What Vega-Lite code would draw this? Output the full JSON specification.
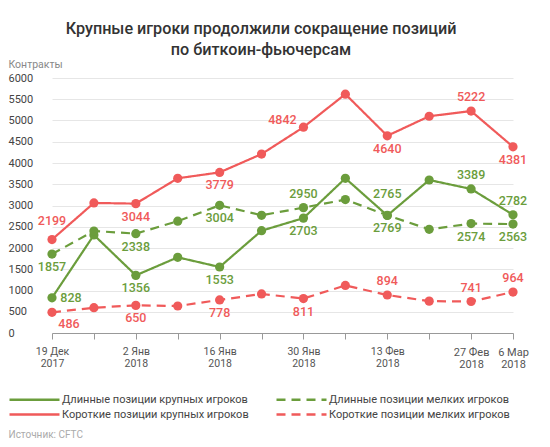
{
  "$schema": "https://vega.github.io/schema/vega-lite/v6.json",
  "autosize": "none",
  "width": 488,
  "height": 255,
  "padding": {"left": 40, "top": 78, "right": 22, "bottom": 114},
  "background": "white",
  "config": {"font": "Roboto", "view": {"stroke": null}},
  "title": {
    "text": ["Крупные игроки продолжили сокращение позиций", "по биткоин-фьючерсам"],
    "fontSize": 16.2,
    "fontWeight": 500,
    "color": "#333333",
    "anchor": "middle",
    "dx": -23,
    "lineHeight": 21,
    "offset": 1
  },
  "data": {
    "values": [
      {"date": "2017-12-19", "series": "Длинные позиции крупных игроков", "value": 828},
      {"date": "2017-12-26", "series": "Длинные позиции крупных игроков", "value": 2306},
      {"date": "2018-01-02", "series": "Длинные позиции крупных игроков", "value": 1356},
      {"date": "2018-01-09", "series": "Длинные позиции крупных игроков", "value": 1781},
      {"date": "2018-01-16", "series": "Длинные позиции крупных игроков", "value": 1553},
      {"date": "2018-01-23", "series": "Длинные позиции крупных игроков", "value": 2407},
      {"date": "2018-01-30", "series": "Длинные позиции крупных игроков", "value": 2703},
      {"date": "2018-02-06", "series": "Длинные позиции крупных игроков", "value": 3640},
      {"date": "2018-02-13", "series": "Длинные позиции крупных игроков", "value": 2765},
      {"date": "2018-02-20", "series": "Длинные позиции крупных игроков", "value": 3600},
      {"date": "2018-02-27", "series": "Длинные позиции крупных игроков", "value": 3389},
      {"date": "2018-03-06", "series": "Длинные позиции крупных игроков", "value": 2782},
      {"date": "2017-12-19", "series": "Длинные позиции мелких игроков", "value": 1857},
      {"date": "2017-12-26", "series": "Длинные позиции мелких игроков", "value": 2400},
      {"date": "2018-01-02", "series": "Длинные позиции мелких игроков", "value": 2338},
      {"date": "2018-01-09", "series": "Длинные позиции мелких игроков", "value": 2630},
      {"date": "2018-01-16", "series": "Длинные позиции мелких игроков", "value": 3004},
      {"date": "2018-01-23", "series": "Длинные позиции мелких игроков", "value": 2770},
      {"date": "2018-01-30", "series": "Длинные позиции мелких игроков", "value": 2950},
      {"date": "2018-02-06", "series": "Длинные позиции мелких игроков", "value": 3140},
      {"date": "2018-02-13", "series": "Длинные позиции мелких игроков", "value": 2769},
      {"date": "2018-02-20", "series": "Длинные позиции мелких игроков", "value": 2440},
      {"date": "2018-02-27", "series": "Длинные позиции мелких игроков", "value": 2574},
      {"date": "2018-03-06", "series": "Длинные позиции мелких игроков", "value": 2563},
      {"date": "2017-12-19", "series": "Короткие позиции крупных игроков", "value": 2199},
      {"date": "2017-12-26", "series": "Короткие позиции крупных игроков", "value": 3060},
      {"date": "2018-01-02", "series": "Короткие позиции крупных игроков", "value": 3044},
      {"date": "2018-01-09", "series": "Короткие позиции крупных игроков", "value": 3640},
      {"date": "2018-01-16", "series": "Короткие позиции крупных игроков", "value": 3779},
      {"date": "2018-01-23", "series": "Короткие позиции крупных игроков", "value": 4210},
      {"date": "2018-01-30", "series": "Короткие позиции крупных игроков", "value": 4842},
      {"date": "2018-02-06", "series": "Короткие позиции крупных игроков", "value": 5620},
      {"date": "2018-02-13", "series": "Короткие позиции крупных игроков", "value": 4640},
      {"date": "2018-02-20", "series": "Короткие позиции крупных игроков", "value": 5100},
      {"date": "2018-02-27", "series": "Короткие позиции крупных игроков", "value": 5222},
      {"date": "2018-03-06", "series": "Короткие позиции крупных игроков", "value": 4381},
      {"date": "2017-12-19", "series": "Короткие позиции мелких игроков", "value": 486},
      {"date": "2017-12-26", "series": "Короткие позиции мелких игроков", "value": 595},
      {"date": "2018-01-02", "series": "Короткие позиции мелких игроков", "value": 650},
      {"date": "2018-01-09", "series": "Короткие позиции мелких игроков", "value": 635},
      {"date": "2018-01-16", "series": "Короткие позиции мелких игроков", "value": 778},
      {"date": "2018-01-23", "series": "Короткие позиции мелких игроков", "value": 918},
      {"date": "2018-01-30", "series": "Короткие позиции мелких игроков", "value": 811},
      {"date": "2018-02-06", "series": "Короткие позиции мелких игроков", "value": 1120},
      {"date": "2018-02-13", "series": "Короткие позиции мелких игроков", "value": 894},
      {"date": "2018-02-20", "series": "Короткие позиции мелких игроков", "value": 750},
      {"date": "2018-02-27", "series": "Короткие позиции мелких игроков", "value": 741},
      {"date": "2018-03-06", "series": "Короткие позиции мелких игроков", "value": 964}
    ]
  },
  "encoding": {
    "x": {
      "field": "date",
      "type": "ordinal",
      "scale": {"type": "point", "range": [12, 473], "padding": 0},
      "axis": {
        "title": "Источник: CFTC",
        "titleX": -32,
        "titleY": 101,
        "titleAlign": "left",
        "titleAnchor": null,
        "titleBaseline": "middle",
        "titleColor": "#aaaaaa",
        "titleFontSize": 10,
        "titleFontWeight": "normal",
        "labelExpr": "datum.value == '2017-12-19' ? ['19 Дек','2017'] : datum.value == '2018-01-02' ? ['2 Янв','2018'] : datum.value == '2018-01-16' ? ['16 Янв','2018'] : datum.value == '2018-01-30' ? ['30 Янв','2018'] : datum.value == '2018-02-13' ? ['13 Фев','2018'] : datum.value == '2018-02-27' ? ['27 Фев','2018'] : datum.value == '2018-03-06' ? ['6 Мар','2018'] : ''",
        "labelAngle": 0,
        "labelOverlap": false,
        "labelColor": "#555555",
        "labelFontSize": {"condition": {"test": "datum.value == '2018-02-27' || datum.value == '2018-03-06'", "value": 11}, "value": 10.5},
        "labelLineHeight": 12,
        "labelPadding": 7,
        "tickSize": 6,
        "tickColor": "#999999",
        "domainColor": "#999999",
        "grid": false
      }
    },
    "y": {
      "field": "value",
      "type": "quantitative",
      "scale": {"domain": [0, 6000], "nice": false},
      "axis": {
        "title": "Контракты",
        "titleAngle": 0,
        "titleX": -32,
        "titleY": -14,
        "titleAlign": "left",
        "titleAnchor": null,
        "titleBaseline": "middle",
        "titleColor": "#888888",
        "titleFontSize": 10.5,
        "titleFontWeight": "normal",
        "format": "d",
        "values": [0, 500, 1000, 1500, 2000, 2500, 3000, 3500, 4000, 4500, 5000, 5500, 6000],
        "labelAlign": "left",
        "labelBaseline": "middle",
        "labelPadding": 32,
        "ticks": false,
        "tickSize": 0,
        "domain": false,
        "labelColor": "#444444",
        "labelFontSize": 11,
        "gridColor": "#e6e6e6"
      }
    },
    "color": {
      "field": "series",
      "type": "nominal",
      "scale": {
        "domain": ["Длинные позиции крупных игроков", "Короткие позиции крупных игроков", "Длинные позиции мелких игроков", "Короткие позиции мелких игроков"],
        "range": ["#6b9d3c", "#f05a5a", "#6b9d3c", "#f05a5a"]
      },
      "legend": {
        "orient": "none",
        "legendX": -12,
        "legendY": 315,
        "columns": 2,
        "title": null,
        "symbolType": "M-5,0H5",
        "symbolSize": 100,
        "symbolStrokeWidth": 2.5,
        "labelFontSize": 11,
        "labelColor": "#444444",
        "labelLimit": 300,
        "labelOffset": 21,
        "columnPadding": 22,
        "rowPadding": 3
      }
    }
  },
  "layer": [
    {
      "mark": {"type": "line", "strokeWidth": 2.2},
      "encoding": {
        "strokeDash": {
          "field": "series",
          "type": "nominal",
          "scale": {
            "domain": ["Длинные позиции крупных игроков", "Короткие позиции крупных игроков", "Длинные позиции мелких игроков", "Короткие позиции мелких игроков"],
            "range": [[1, 0], [1, 0], [9, 6], [9, 6]]
          },
          "legend": {
            "orient": "none",
            "legendX": -12,
            "legendY": 315,
            "columns": 2,
            "title": null,
            "symbolType": "M-5,0H5",
            "symbolSize": 100,
            "symbolStrokeWidth": 2.5,
            "labelFontSize": 11,
            "labelColor": "#444444",
            "labelLimit": 300,
            "labelOffset": 21,
            "columnPadding": 22,
            "rowPadding": 3
          }
        }
      }
    },
    {
      "mark": {"type": "point", "filled": true, "size": 85, "opacity": 1},
      "encoding": {}
    },
    {
      "transform": [{"filter": "(datum.series == 'Длинные позиции крупных игроков' && indexof(['2018-02-27','2018-03-06'], datum.date) >= 0) || (datum.series == 'Длинные позиции мелких игроков' && datum.date == '2018-01-30') || (datum.series == 'Короткие позиции крупных игроков' && datum.date == '2018-02-27') || (datum.series == 'Короткие позиции мелких игроков' && indexof(['2018-02-13','2018-02-27','2018-03-06'], datum.date) >= 0)"}],
      "mark": {"type": "text", "fontSize": 12.5, "fontWeight": 500, "dy": -14, "baseline": "middle"},
      "encoding": {"text": {"field": "value", "type": "quantitative", "format": "d"}}
    },
    {
      "transform": [{"filter": "(datum.series == 'Длинные позиции крупных игроков' && indexof(['2018-01-02','2018-01-16','2018-01-30'], datum.date) >= 0) || (datum.series == 'Длинные позиции мелких игроков' && indexof(['2017-12-19','2018-01-02','2018-01-16','2018-02-13','2018-02-27','2018-03-06'], datum.date) >= 0) || (datum.series == 'Короткие позиции крупных игроков' && indexof(['2018-01-02','2018-01-16','2018-02-13','2018-03-06'], datum.date) >= 0) || (datum.series == 'Короткие позиции мелких игроков' && indexof(['2018-01-02','2018-01-16','2018-01-30'], datum.date) >= 0)"}],
      "mark": {"type": "text", "fontSize": 12.5, "fontWeight": 500, "dy": 13, "baseline": "middle"},
      "encoding": {"text": {"field": "value", "type": "quantitative", "format": "d"}}
    },
    {
      "transform": [{"filter": "datum.series == 'Длинные позиции крупных игроков' && datum.date == '2018-02-13'"}],
      "mark": {"type": "text", "fontSize": 12.5, "fontWeight": 500, "dy": -21, "baseline": "middle"},
      "encoding": {"text": {"field": "value", "type": "quantitative", "format": "d"}}
    },
    {
      "transform": [{"filter": "datum.series == 'Длинные позиции крупных игроков' && datum.date == '2017-12-19'"}],
      "mark": {"type": "text", "fontSize": 12.5, "fontWeight": 500, "dx": 19, "dy": 0, "baseline": "middle"},
      "encoding": {"text": {"field": "value", "type": "quantitative", "format": "d"}}
    },
    {
      "transform": [{"filter": "datum.series == 'Короткие позиции мелких игроков' && datum.date == '2017-12-19'"}],
      "mark": {"type": "text", "fontSize": 12.5, "fontWeight": 500, "dx": 17, "dy": 12, "baseline": "middle"},
      "encoding": {"text": {"field": "value", "type": "quantitative", "format": "d"}}
    },
    {
      "transform": [{"filter": "datum.series == 'Короткие позиции крупных игроков' && datum.date == '2018-01-30'"}],
      "mark": {"type": "text", "fontSize": 12.5, "fontWeight": 500, "dx": -21, "dy": -7, "baseline": "middle"},
      "encoding": {"text": {"field": "value", "type": "quantitative", "format": "d"}}
    },
    {
      "transform": [{"filter": "datum.series == 'Короткие позиции крупных игроков' && datum.date == '2017-12-19'"}],
      "mark": {"type": "text", "fontSize": 12.5, "fontWeight": 500, "dy": -19, "baseline": "middle"},
      "encoding": {"text": {"field": "value", "type": "quantitative", "format": "d"}}
    }
  ]
}
